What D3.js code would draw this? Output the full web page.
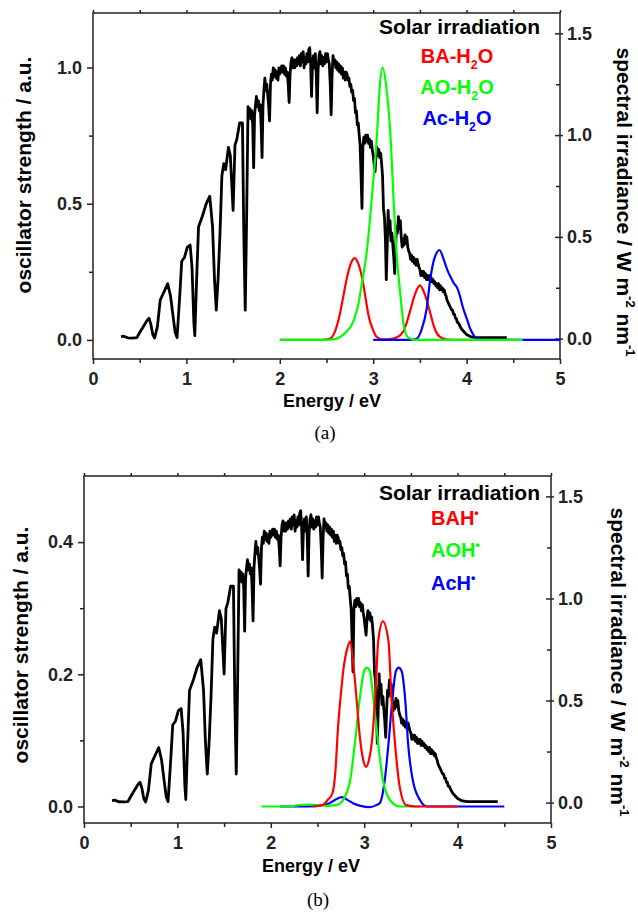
<!DOCTYPE html>
<html>
<head>
<meta charset="utf-8">
<script src="https://cdn.jsdelivr.net/npm/d3@7"></script>
<style>
  body { margin: 0; background: #fff; }
  text { font-family: "Liberation Sans", Arial, sans-serif; }
</style>
</head>
<body>
<div id="chart"></div>
<script>
// Solar irradiation, [energy eV, spectral irradiance W m-2 nm-1] (right axis)
const solarSpectrum = [
  [0.30,0.010],[0.33,0.012],[0.37,0.004],[0.42,0.003],[0.47,0.005],[0.50,0.030],[0.54,0.060],
  [0.58,0.090],[0.60,0.100],[0.62,0.070],[0.64,0.020],[0.66,0.003],[0.69,0.060],[0.72,0.190],
  [0.76,0.230],[0.80,0.270],[0.83,0.210],[0.86,0.100],[0.88,0.030],[0.90,0.005],[0.93,0.220],
  [0.95,0.380],[0.98,0.400],[1.01,0.450],[1.04,0.460],[1.06,0.350],[1.08,0.080],[1.09,0.015],
  [1.11,0.300],[1.13,0.550],[1.17,0.600],[1.21,0.660],[1.25,0.700],[1.28,0.550],[1.30,0.300],
  [1.32,0.140],[1.34,0.300],[1.36,0.520],[1.38,0.800],[1.40,0.860],[1.42,0.830],[1.45,0.940],
  [1.47,0.900],[1.50,0.630],[1.52,0.950],[1.54,0.980],[1.57,1.060],[1.60,1.060],[1.615,0.500],
  [1.63,0.140],[1.645,0.600],[1.66,1.14],[1.67,1.10],[1.68,1.13],[1.69,1.08],[1.70,1.12],
  [1.71,1.05],[1.72,0.84],[1.73,1.10],[1.74,1.15],[1.75,1.19],[1.76,1.14],[1.77,1.17],[1.78,1.12],
  [1.79,1.15],[1.80,1.05],[1.81,0.89],[1.82,1.15],[1.83,1.22],[1.84,1.28],[1.85,1.22],[1.86,1.25],
  [1.87,1.20],[1.88,1.15],[1.89,1.07],[1.90,1.25],[1.91,1.30],[1.92,1.27],[1.93,1.33],[1.94,1.29],
  [1.95,1.32],[1.96,1.28],[1.97,1.31],[1.98,1.27],[1.99,1.33],[2.00,1.30],[2.02,1.34],[2.03,1.31],
  [2.04,1.34],[2.05,1.30],[2.06,1.33],[2.07,1.29],[2.08,1.31],[2.09,1.25],[2.10,1.16],[2.11,1.30],
  [2.12,1.36],[2.13,1.38],[2.14,1.33],[2.15,1.37],[2.16,1.33],[2.17,1.37],[2.18,1.34],[2.19,1.38],
  [2.20,1.35],[2.21,1.39],[2.22,1.34],[2.23,1.40],[2.24,1.36],[2.25,1.41],[2.26,1.33],[2.27,1.38],
  [2.28,1.35],[2.29,1.40],[2.30,1.36],[2.31,1.42],[2.32,1.43],[2.33,1.35],[2.34,1.19],[2.35,1.35],
  [2.36,1.39],[2.37,1.33],[2.38,1.40],[2.39,1.30],[2.40,1.11],[2.41,1.32],[2.42,1.39],[2.43,1.41],
  [2.44,1.35],[2.45,1.39],[2.46,1.34],[2.47,1.38],[2.48,1.35],[2.49,1.40],[2.50,1.36],[2.51,1.40],
  [2.52,1.37],[2.53,1.35],[2.54,1.25],[2.55,1.10],[2.56,1.30],[2.57,1.39],[2.58,1.35],[2.59,1.37],
  [2.60,1.33],[2.61,1.36],[2.62,1.32],[2.63,1.35],[2.64,1.31],[2.65,1.34],[2.66,1.30],[2.67,1.33],
  [2.68,1.28],[2.69,1.31],[2.70,1.27],[2.71,1.31],[2.72,1.30],[2.73,1.27],[2.74,1.28],[2.75,1.24],
  [2.76,1.25],[2.77,1.21],[2.78,1.22],[2.79,1.17],[2.80,1.18],[2.81,1.11],[2.82,1.12],[2.83,1.05],
  [2.84,1.06],[2.85,1.00],[2.86,0.95],[2.87,0.80],[2.88,0.64],[2.89,0.95],[2.90,0.99],[2.91,0.96],
  [2.92,1.00],[2.93,0.97],[2.94,1.00],[2.95,0.96],[2.96,0.98],[2.97,0.94],[2.98,0.97],[2.99,0.93],
  [3.00,0.90],[3.01,0.86],[3.02,0.82],[3.03,0.90],[3.04,0.94],[3.05,0.90],[3.06,0.93],[3.07,0.89],
  [3.08,0.91],[3.09,0.86],[3.10,0.80],[3.11,0.64],[3.12,0.60],[3.13,0.50],[3.14,0.29],[3.15,0.45],
  [3.16,0.63],[3.17,0.52],[3.18,0.58],[3.19,0.48],[3.20,0.52],[3.21,0.46],[3.22,0.40],[3.23,0.32],
  [3.24,0.45],[3.25,0.55],[3.26,0.52],[3.27,0.60],[3.28,0.54],[3.29,0.58],[3.30,0.50],[3.31,0.45],
  [3.32,0.49],[3.33,0.46],[3.34,0.51],[3.35,0.47],[3.36,0.50],[3.37,0.45],[3.38,0.43],[3.39,0.42],
  [3.40,0.39],[3.41,0.41],[3.42,0.38],[3.43,0.40],[3.44,0.37],[3.45,0.39],[3.46,0.36],[3.47,0.39],
  [3.48,0.37],[3.49,0.35],[3.50,0.34],[3.51,0.31],[3.52,0.33],[3.53,0.31],[3.54,0.33],[3.55,0.30],
  [3.56,0.32],[3.57,0.29],[3.58,0.31],[3.59,0.29],[3.60,0.31],[3.61,0.28],[3.62,0.30],[3.63,0.28],
  [3.64,0.29],[3.65,0.27],[3.66,0.28],[3.67,0.26],[3.68,0.27],[3.69,0.25],[3.70,0.27],[3.71,0.24],
  [3.72,0.26],[3.73,0.24],[3.74,0.25],[3.75,0.23],[3.76,0.24],[3.77,0.22],[3.78,0.21],[3.79,0.19],
  [3.80,0.18],[3.81,0.17],[3.82,0.16],[3.83,0.15],[3.84,0.14],[3.85,0.14],[3.86,0.12],[3.87,0.12],
  [3.88,0.10],[3.89,0.10],[3.90,0.08],[3.91,0.08],[3.93,0.06],[3.95,0.045],[3.97,0.035],
  [4.00,0.02],[4.04,0.01],[4.10,0.005],[4.20,0.005],[4.43,0.005]
];

// Panel (a) oscillator strengths, [energy eV, a.u.]
const baH2O = [
  [2.00,0],[2.40,0],[2.50,0.002],[2.54,0.005],[2.60,0.04],[2.64,0.09],[2.68,0.16],[2.72,0.23],
  [2.76,0.28],[2.80,0.30],[2.84,0.28],[2.88,0.23],[2.92,0.15],[2.95,0.09],[3.00,0.035],[3.04,0.01],
  [3.10,0.002],[3.20,0.004],[3.28,0.015],[3.32,0.03],[3.36,0.065],[3.39,0.10],[3.45,0.17],
  [3.50,0.20],[3.55,0.17],[3.61,0.10],[3.65,0.05],[3.68,0.025],[3.75,0.005],[3.85,0],[4.50,0]
];
const aoH2O = [
  [2.00,0],[2.50,0],[2.60,0.004],[2.70,0.025],[2.79,0.07],[2.84,0.13],[2.88,0.21],[2.93,0.32],
  [2.97,0.46],[3.00,0.58],[3.04,0.75],[3.07,0.93],[3.10,1.00],[3.14,0.93],[3.19,0.72],[3.22,0.50],
  [3.25,0.32],[3.29,0.17],[3.32,0.07],[3.37,0.01],[3.45,0],[4.60,0]
];
const acH2O = [
  [3.00,0],[3.40,0],[3.47,0.005],[3.52,0.04],[3.57,0.11],[3.61,0.22],[3.64,0.28],[3.68,0.32],
  [3.71,0.33],[3.75,0.30],[3.79,0.26],[3.83,0.23],[3.86,0.21],[3.90,0.19],[3.93,0.16],[3.96,0.12],
  [4.00,0.08],[4.04,0.04],[4.08,0.015],[4.12,0.004],[4.22,0],[5.00,0]
];

// Panel (b) oscillator strengths
const bah = [
  [2.45,0],[2.55,0.002],[2.61,0.01],[2.66,0.02],[2.69,0.05],[2.72,0.12],[2.75,0.17],[2.78,0.21],
  [2.82,0.24],[2.85,0.25],[2.88,0.22],[2.92,0.16],[2.95,0.11],[2.99,0.07],[3.02,0.06],[3.05,0.07],
  [3.08,0.095],[3.12,0.17],[3.15,0.25],[3.20,0.28],[3.26,0.25],[3.29,0.17],[3.33,0.095],[3.38,0.03],
  [3.45,0.002],[3.55,0],[4.00,0]
];
const aoh = [
  [1.90,0],[2.20,0],[2.30,0.002],[2.40,0.003],[2.50,0.002],[2.60,0.001],[2.70,0.002],[2.77,0.009],
  [2.85,0.04],[2.90,0.095],[2.95,0.16],[3.00,0.205],[3.03,0.21],[3.06,0.205],[3.10,0.16],[3.15,0.095],
  [3.20,0.04],[3.28,0.009],[3.38,0],[3.60,0]
];
const ach = [
  [2.10,0],[2.40,0],[2.55,0.002],[2.63,0.005],[2.70,0.011],[2.76,0.014],[2.82,0.01],[2.88,0.005],
  [2.96,0.001],[3.06,-0.001],[3.13,0.002],[3.17,0.006],[3.22,0.04],[3.26,0.095],[3.30,0.16],
  [3.34,0.205],[3.37,0.21],[3.40,0.205],[3.44,0.16],[3.47,0.095],[3.52,0.04],[3.60,0.009],
  [3.67,0],[4.50,0]
];

const namesA = ["BA-H_{2}O", "AO-H_{2}O", "Ac-H_{2}O"];
const namesB = ["BAH^{•}", "AOH^{•}", "AcH^{•}"];
const solarName = "Solar irradiation";

const energyTicks = [0, 1, 2, 3, 4, 5];
const energyMinor = [0.5, 1.5, 2.5, 3.5, 4.5];
const irradianceTicks = [0, 0.5, 1.0, 1.5];
const irradianceMinor = [0.25, 0.75, 1.25];
const oscTicksA = [0, 0.5, 1.0];
const oscMinorA = [0.25, 0.75];
const oscTicksB = [0, 0.2, 0.4];
const oscMinorB = [0.1, 0.3];

const colors = ["#ff0000", "#00ff00", "#0000ff"];
const axisColor = "#222";

const svg = d3.select("#chart").append("svg")
  .attr("width", 638).attr("height", 913)
  .style("display", "block");

// text with _{sub} and ^{sup} parts
function richText(sel, str, size) {
  const parts = str.match(/(\^\{[^}]*\}|_\{[^}]*\}|[^^_]+)/g);
  let off = 0;
  parts.forEach(p => {
    let t = p, shift = 0, fs = size;
    if (p[0] === "_") { t = p.slice(2, -1); shift = size * 0.3; fs = size * 0.62; }
    else if (p[0] === "^") { t = p.slice(2, -1); shift = -size * 0.42; fs = size * 0.62; }
    sel.append("tspan").attr("dy", shift - off).attr("font-size", fs).text(t);
    off = shift;
  });
}

function drawPanel(p) {
  const x = d3.scaleLinear().domain([0, 5]).range([p.left, p.right]);
  const yL = d3.scaleLinear().domain(p.oscDomain).range([p.bottom, p.top]);
  const yR = d3.scaleLinear().domain([-0.1, 1.6]).range([p.bottom, p.top]);
  const g = svg.append("g");

  const style = a => a.attr("font-size", 18).attr("font-weight", "bold")
    .attr("font-family", "'Liberation Sans', Arial, sans-serif").attr("color", axisColor)
    .call(s => s.select(".domain").remove())
    .call(s => s.selectAll(".tick line").attr("stroke-width", 1.5));

  g.append("g").attr("transform", `translate(0,${p.bottom})`)
    .call(d3.axisBottom(x).tickValues(energyTicks).tickSize(5).tickPadding(8).tickFormat(d3.format("d")))
    .call(style);
  g.append("g").attr("transform", `translate(0,${p.bottom})`)
    .call(d3.axisBottom(x).tickValues(energyMinor).tickSize(4).tickFormat(""))
    .call(style);
  g.append("g").attr("transform", `translate(0,${p.top})`)
    .call(d3.axisTop(x).tickValues(energyTicks.concat(energyMinor)).tickSize(3).tickFormat(""))
    .call(style);

  g.append("g").attr("transform", `translate(${p.left},0)`)
    .call(d3.axisLeft(yL).tickValues(p.oscTicks).tickSize(6).tickPadding(5).tickFormat(d3.format(".1f")))
    .call(style);
  g.append("g").attr("transform", `translate(${p.left},0)`)
    .call(d3.axisLeft(yL).tickValues(p.oscMinor).tickSize(4).tickFormat(""))
    .call(style);

  g.append("g").attr("transform", `translate(${p.right},0)`)
    .call(d3.axisRight(yR).tickValues(irradianceTicks).tickSize(3).tickPadding(4).tickFormat(d3.format(".1f")))
    .call(style)
    .call(s => s.selectAll(".tick line").attr("x1", -5));
  g.append("g").attr("transform", `translate(${p.right},0)`)
    .call(d3.axisRight(yR).tickValues(irradianceMinor).tickSize(0).tickFormat(""))
    .call(style)
    .call(s => s.selectAll(".tick line").attr("x1", -4));

  // solar spectrum on right axis
  const lineR = d3.line().x(d => x(d[0])).y(d => yR(d[1]));
  g.append("path").datum(solarSpectrum)
    .attr("d", lineR).attr("fill", "none").attr("stroke", "#000")
    .attr("stroke-width", 2.8).attr("stroke-linejoin", "round");

  // oscillator strengths on left axis
  const lineL = d3.line().x(d => x(d[0])).y(d => yL(d[1])).curve(d3.curveMonotoneX);
  p.order.forEach(i => {
    g.append("path").datum(p.series[i])
      .attr("d", lineL).attr("fill", "none").attr("stroke", colors[i])
      .attr("stroke-width", 2.2);
  });

  // frame
  g.append("rect")
    .attr("x", p.left).attr("y", p.top)
    .attr("width", p.right - p.left).attr("height", p.bottom - p.top)
    .attr("fill", "none").attr("stroke", axisColor).attr("stroke-width", 1.5);

  // titles
  g.append("text").attr("x", p.xTitle[0]).attr("y", p.xTitle[1])
    .attr("text-anchor", "middle").attr("font-size", 18).attr("font-weight", "bold")
    .text("Energy / eV");
  g.append("text")
    .attr("transform", `translate(${p.yTitleL[0]},${p.yTitleL[1]})rotate(-90)`)
    .attr("text-anchor", "middle").attr("font-size", 21).attr("font-weight", "bold")
    .text("oscillator strength / a.u.");
  g.append("text")
    .attr("transform", `translate(${p.yTitleR[0]},${p.yTitleR[1]})rotate(90)`)
    .attr("text-anchor", "middle").attr("font-weight", "bold")
    .call(s => richText(s, "spectral irradiance / W m^{-2} nm^{-1}", 21));

  // legend
  g.append("text").attr("x", 540).attr("y", p.legendTop)
    .attr("text-anchor", "end").attr("font-size", 21).attr("font-weight", "bold")
    .text(solarName);
  p.names.forEach((n, i) => {
    g.append("text").attr("x", p.legendX).attr("y", p.legendY[i])
      .attr("text-anchor", p.legendAnchor).attr("font-weight", "bold")
      .attr("fill", colors[i])
      .call(s => richText(s, n, 20));
  });

  g.append("text").attr("x", p.tag[0]).attr("y", p.tag[1])
    .attr("text-anchor", "middle").attr("font-size", 19)
    .style("font-family", "'Liberation Serif', 'Times New Roman', serif")
    .text(p.tagText);
}

drawPanel({
  left: 93, right: 560, top: 13, bottom: 359,
  oscDomain: [-0.07, 1.2], oscTicks: oscTicksA, oscMinor: oscMinorA,
  series: [baH2O, aoH2O, acH2O], order: [0, 2, 1], names: namesA,
  xTitle: [332, 407], yTitleL: [30.5, 175], yTitleR: [617, 202],
  legendTop: 34, legendX: 457, legendAnchor: "middle", legendY: [63, 94, 125],
  tag: [325, 439], tagText: "(a)"
});

drawPanel({
  left: 84, right: 551, top: 476, bottom: 823,
  oscDomain: [-0.025, 0.5], oscTicks: oscTicksB, oscMinor: oscMinorB,
  series: [bah, aoh, ach], order: [2, 1, 0], names: namesB,
  xTitle: [311, 872], yTitleL: [27.5, 645], yTitleR: [611, 662],
  legendTop: 500, legendX: 431, legendAnchor: "start", legendY: [525, 557, 590],
  tag: [318, 906], tagText: "(b)"
});
</script>
</body>
</html>
